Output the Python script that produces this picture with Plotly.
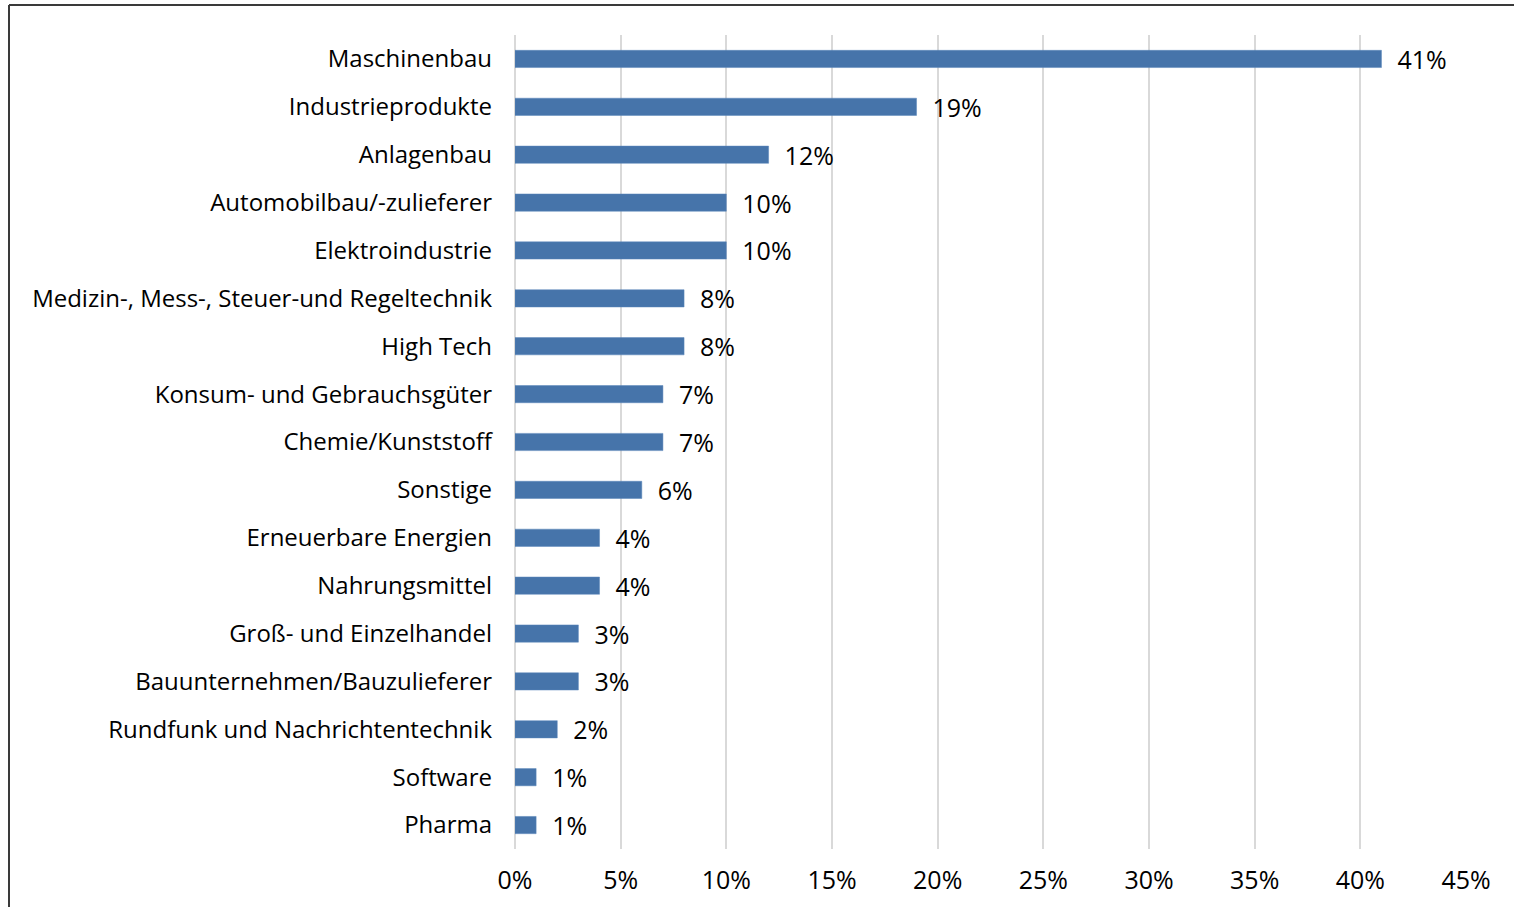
import plotly.graph_objects as go

categories = ["Maschinenbau", "Industrieprodukte", "Anlagenbau", "Automobilbau/-zulieferer",
              "Elektroindustrie", "Medizin-, Mess-, Steuer-und Regeltechnik", "High Tech",
              "Konsum- und Gebrauchsgüter", "Chemie/Kunststoff", "Sonstige",
              "Erneuerbare Energien", "Nahrungsmittel", "Groß- und Einzelhandel",
              "Bauunternehmen/Bauzulieferer", "Rundfunk und Nachrichtentechnik",
              "Software", "Pharma"]
values = [41, 19, 12, 10, 10, 8, 8, 7, 7, 6, 4, 4, 3, 3, 2, 1, 1]
x_ticks = [0, 5, 10, 15, 20, 25, 30, 35, 40, 45]
x_tick_labels = [f"{t}%" for t in x_ticks]

W, H = 1514, 907
L, R, T, B = 515, 48, 35, 58
FONT = "Open Sans, Liberation Sans, Arial, sans-serif"
FS_CAT = 24
FS_NUM = 25

fig = go.Figure(go.Bar(
    y=categories,
    x=values,
    orientation="h",
    width=0.36,
    marker=dict(color="#4674AA", line=dict(color="#5A86BA", width=0.5)),
    text=["\u00a0\u00a0" + f"{v}%" for v in values],
    textposition="outside",
    constraintext="none",
    textfont=dict(size=FS_NUM, color="#000000", family=FONT),
    cliponaxis=False,
))

fig.update_layout(
    width=W, height=H,
    margin=dict(l=L, r=R, t=T, b=B, pad=0),
    paper_bgcolor="white", plot_bgcolor="white",
    showlegend=False,
    font=dict(family=FONT, size=FS_CAT, color="#000000"),
    xaxis=dict(
        range=[0, 45], tickvals=x_ticks, ticktext=x_tick_labels,
        showgrid=True, gridcolor="#D9D9D9", gridwidth=2,
        zeroline=True, zerolinecolor="#D9D9D9", zerolinewidth=2,
        showline=False, ticks="", ticklabelstandoff=14,
        tickfont=dict(size=FS_NUM, family=FONT),
        fixedrange=True,
    ),
    yaxis=dict(
        categoryorder="array", categoryarray=categories[::-1],
        range=[-0.5, len(categories) - 0.5],
        showgrid=False, zeroline=False, showline=False, ticks="",
        ticklabelstandoff=22,
        tickfont=dict(size=FS_CAT, family=FONT),
    ),
)

pw = W - L - R
ph = H - T - B
def px_x(p):
    return (p - L) / pw
def px_y(p):
    return (H - B - p) / ph

frame_color = "#3A3A3A"
fig.add_shape(type="line", xref="paper", yref="paper",
              x0=px_x(9), x1=px_x(W + 5), y0=px_y(5), y1=px_y(5),
              line=dict(color=frame_color, width=2))
fig.add_shape(type="line", xref="paper", yref="paper",
              x0=px_x(9), x1=px_x(9), y0=px_y(5), y1=px_y(H + 5),
              line=dict(color=frame_color, width=2))

fig.write_html("out.html", config={"displayModeBar": False},
               post_script="document.body.style.margin='0px';document.body.style.overflow='hidden';")
